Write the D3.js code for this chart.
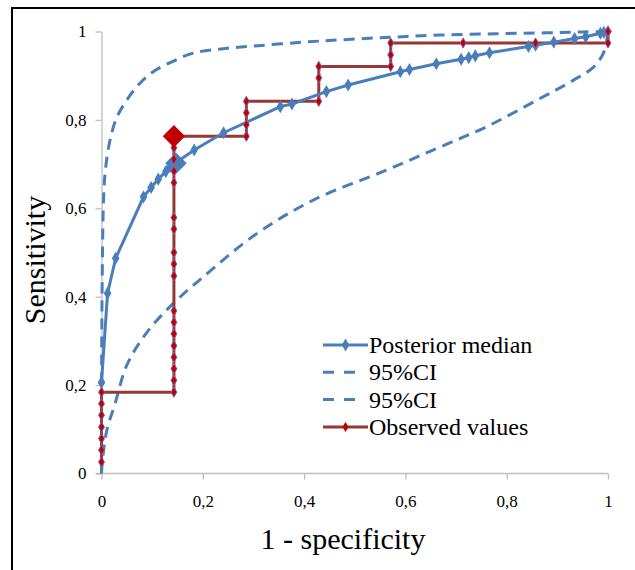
<!DOCTYPE html>
<html lang="en">
<head>
    <meta charset="UTF-8">
    <title>ROC curve</title>
    <script src="https://d3js.org/d3.v7.min.js"></script>
    <style>
        body { margin: 0; background: #fff; }
        svg text { font-family: "Liberation Serif", "Times New Roman", Times, "DejaVu Serif", serif !important; fill: #000; }
        .axis path, .axis line { stroke: #bfbfbf; stroke-width: 1.3; }
        .axis text { font-size: 17px; }
    </style>
</head>
<body>
    <div id="chart"></div>
    <script>
        // Posterior median ROC curve
        var medFpr  = [0, 0.012, 0.028, 0.083, 0.098, 0.112, 0.127, 0.135, 0.183, 0.241, 0.353, 0.376, 0.444, 0.487, 0.590, 0.608, 0.661, 0.710, 0.725, 0.738, 0.766, 0.843, 0.857, 0.893, 0.934, 0.956, 0.985, 0.992, 1];
        var medSens = [0.206, 0.408, 0.487, 0.626, 0.647, 0.666, 0.683, 0.694, 0.732, 0.771, 0.830, 0.836, 0.864, 0.879, 0.909, 0.914, 0.927, 0.937, 0.941, 0.945, 0.952, 0.966, 0.969, 0.976, 0.984, 0.988, 0.996, 0.998, 1];

        // 95% CI bands
        var upFpr  = [0, 0.0005, 0.002, 0.004, 0.008, 0.017, 0.03, 0.05, 0.075, 0.102, 0.14, 0.181, 0.24, 0.31, 0.40, 0.47, 0.57, 0.67, 0.78, 0.88, 0.95, 1];
        var upSens = [0, 0.3, 0.5, 0.62, 0.69, 0.755, 0.805, 0.845, 0.882, 0.909, 0.932, 0.951, 0.961, 0.968, 0.976, 0.981, 0.987, 0.992, 0.995, 0.997, 0.999, 1];
        var loFpr  = [0, 0.002, 0.010, 0.027, 0.05, 0.09, 0.142, 0.201, 0.307, 0.419, 0.564, 0.665, 0.761, 0.860, 0.932, 0.972, 0.992, 1];
        var loSens = [0, 0.03, 0.095, 0.159, 0.245, 0.32, 0.385, 0.445, 0.543, 0.619, 0.687, 0.737, 0.785, 0.845, 0.890, 0.920, 0.954, 1];

        // Observed (empirical) ROC steps
        var obsFpr  = [0, 0, 0, 0, 0, 0, 0,
                       0.143, 0.143, 0.143, 0.143, 0.143, 0.143, 0.143, 0.143, 0.143, 0.143, 0.143, 0.143, 0.143, 0.143, 0.143, 0.143, 0.143, 0.143,
                       0.286, 0.286, 0.286, 0.286,
                       0.429, 0.429, 0.429,
                       0.571, 0.571, 0.571,
                       0.714, 0.857, 1, 1];
        var obsSens = [0.026, 0.053, 0.079, 0.105, 0.132, 0.158, 0.184,
                       0.184, 0.211, 0.237, 0.263, 0.289, 0.316, 0.342, 0.368, 0.447, 0.474, 0.500, 0.553, 0.579, 0.658, 0.684, 0.711, 0.737, 0.763,
                       0.763, 0.789, 0.816, 0.842,
                       0.842, 0.895, 0.921,
                       0.921, 0.947, 0.974,
                       0.974, 0.974, 0.974, 1];

        // Highlighted points
        var medPoint = [0.147, 0.702];
        var obsPoint = [0.143, 0.763];

        var ticks = [0, 0.2, 0.4, 0.6, 0.8, 1];
        var legendNames = ["Posterior median", "95%CI", "95%CI", "Observed values"];

        var blue = "#4a7ebb", red = "#953735";

        var svg = d3.select("#chart").append("svg")
            .attr("width", 635)
            .attr("height", 570);

        // Frame
        svg.append("rect")
            .attr("x", 12).attr("y", 8)
            .attr("width", 640).attr("height", 580)
            .attr("fill", "none")
            .attr("stroke", "#000")
            .attr("stroke-width", 2);

        var x = d3.scaleLinear().domain([0, 1]).range([101.5, 608]);
        var y = d3.scaleLinear().domain([0, 1]).range([473.5, 31.5]);

        var fmt = function(d) { return d === 0 || d === 1 ? String(d) : d3.format(".1f")(d).replace(".", ","); };

        // Axes
        var xAxis = svg.append("g").attr("class", "axis")
            .attr("transform", "translate(0,473.5)")
            .call(d3.axisBottom(x).tickValues(ticks).tickFormat(fmt).tickSize(6).tickSizeOuter(0));
        xAxis.attr("font-family", null);
        xAxis.selectAll("text").attr("dy", "1.45em");
        xAxis.select(".domain").attr("d", "M96,0H608");

        var yAxis = svg.append("g").attr("class", "axis")
            .attr("transform", "translate(101.5,0)")
            .call(d3.axisLeft(y).tickValues(ticks).tickFormat(fmt).tickSize(6).tickSizeOuter(0));
        yAxis.attr("font-family", null);
        yAxis.selectAll("text").attr("x", -15);

        // Axis titles
        svg.append("text")
            .attr("x", 343).attr("y", 549)
            .attr("text-anchor", "middle")
            .style("font-size", "30px")
            .text("1 - specificity");
        svg.append("text")
            .attr("transform", "translate(45,260) rotate(-90)")
            .attr("text-anchor", "middle")
            .style("font-size", "30px")
            .text("Sensitivity");

        var zip = function(a, b) { return a.map(function(d, i) { return [d, b[i]]; }); };
        var medData = zip(medFpr, medSens);
        var upData = zip(upFpr, upSens);
        var loData = zip(loFpr, loSens);
        var obsData = zip(obsFpr, obsSens);

        var line = d3.line().x(function(d) { return x(d[0]); }).y(function(d) { return y(d[1]); });
        var smooth = d3.line().curve(d3.curveCatmullRom.alpha(0.5))
            .x(function(d) { return x(d[0]); }).y(function(d) { return y(d[1]); });

        // CI dashed curves
        [upData, loData].forEach(function(dd) {
            svg.append("path")
                .attr("d", smooth(dd))
                .attr("fill", "none")
                .attr("stroke", blue)
                .attr("stroke-width", 3)
                .attr("stroke-dasharray", "11,7");
        });

        // Observed step line
        svg.append("path")
            .attr("d", line(obsData))
            .attr("fill", "none")
            .attr("stroke", red)
            .attr("stroke-width", 3);

        // Median line and markers
        svg.append("path")
            .attr("d", line(medData))
            .attr("fill", "none")
            .attr("stroke", blue)
            .attr("stroke-width", 3);

        var smallDiamond = d3.symbol().type(d3.symbolDiamond).size(50);
        svg.selectAll(".med").data(medData).enter().append("path")
            .attr("class", "med")
            .attr("transform", function(d) { return "translate(" + x(d[0]) + "," + y(d[1]) + ")"; })
            .attr("d", smallDiamond)
            .attr("fill", blue);

        svg.append("path")
            .attr("d", d3.symbol().type(d3.symbolSquare).size(230)())
            .attr("transform", "translate(" + x(medPoint[0]) + "," + y(medPoint[1]) + ") rotate(45)")
            .attr("fill", blue);

        // Observed markers
        svg.selectAll(".obs").data(obsData).enter().append("path")
            .attr("class", "obs")
            .attr("transform", function(d) { return "translate(" + x(d[0]) + "," + y(d[1]) + ")"; })
            .attr("d", d3.symbol().type(d3.symbolDiamond).size(30))
            .attr("fill", "#c00000")
            .attr("stroke", "#8064a2")
            .attr("stroke-width", 1);

        svg.append("path")
            .attr("d", d3.symbol().type(d3.symbolSquare).size(250)())
            .attr("transform", "translate(" + x(obsPoint[0]) + "," + y(obsPoint[1]) + ") rotate(45)")
            .attr("fill", "#c00000");

        // Legend
        var legend = svg.append("g").attr("transform", "translate(323,345)");
        legendNames.forEach(function(name, i) {
            var g = legend.append("g").attr("transform", "translate(0," + (i * 27.3) + ")");
            var ln = g.append("line")
                .attr("x1", 0).attr("x2", 45)
                .attr("stroke-width", 3)
                .attr("stroke", i === 3 ? red : blue);
            if (i === 1 || i === 2) ln.attr("stroke-dasharray", "11,10").attr("x2", 33);
            if (i === 0) g.append("path").attr("transform", "translate(22.5,0)").attr("d", smallDiamond).attr("fill", blue);
            if (i === 3) g.append("path").attr("transform", "translate(22.5,0)")
                .attr("d", d3.symbol().type(d3.symbolDiamond).size(30)).attr("fill", "#c00000");
            g.append("text")
                .attr("x", 46).attr("y", 8)
                .style("font-size", "24px")
                .text(name);
        });
    </script>
</body>
</html>
